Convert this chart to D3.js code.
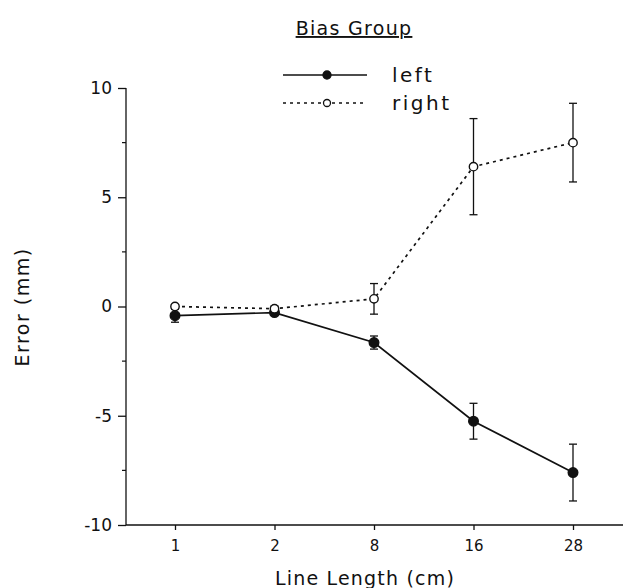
<!DOCTYPE html>
<html><head><meta charset="utf-8">
<script src="https://cdn.jsdelivr.net/npm/d3@7"></script>
<style>body{margin:0;background:#fff}svg{display:block}text{font-family:"DejaVu Sans",Verdana,sans-serif;fill:#111}</style>
</head><body>
<script>
const categories = ["1","2","8","16","28"];
const leftMean = [-0.42, -0.28, -1.65, -5.25, -7.6];
const leftErr = [0.3, 0.1, 0.3, 0.82, 1.3];
const rightMean = [0.0, -0.1, 0.35, 6.4, 7.5];
const rightErr = [0.05, 0.12, 0.7, 2.2, 1.8];
const yTicks = [-10, -5, 0, 5, 10];
const yMinor = [-7.5, -2.5, 2.5, 7.5];

const W = 623, H = 588;
const svg = d3.select("body").append("svg").attr("width", W).attr("height", H);
const x = d3.scalePoint().domain(categories).range([175, 573]);
const y = d3.scaleLinear().domain([-10, 10]).range([525, 88]);

// axes
const yAxis = svg.append("g").attr("transform", "translate(126,0)")
  .call(d3.axisLeft(y).tickValues(yTicks).tickSize(8).tickPadding(6).tickFormat(d => String(d)));
yAxis.select(".domain").attr("d", `M0,${y(10)}V${y(-10)}`);
yAxis.selectAll("text").attr("font-size", 17).attr("font-family", "Liberation Serif, serif").attr("fill", "#111");
svg.append("g").attr("transform", "translate(126,0)")
  .selectAll("line").data(yMinor).join("line")
  .attr("x1", -4).attr("x2", 0).attr("y1", d => y(d)).attr("y2", d => y(d)).attr("stroke", "#111").attr("stroke-width", 1.2);

const xAxis = svg.append("g").attr("transform", `translate(0,${y(-10)})`)
  .call(d3.axisBottom(x).tickSize(5).tickPadding(10));
xAxis.select(".domain").attr("d", `M126,0H623`);
xAxis.selectAll("text").attr("font-size", 15).attr("font-family", "DejaVu Sans").attr("fill", "#111");
svg.selectAll(".domain, .tick line").attr("stroke", "#111").attr("stroke-width", 1.3);

// labels
svg.append("text").attr("x", 354).attr("y", 35).attr("text-anchor", "middle")
  .attr("font-size", 19).attr("letter-spacing", 1.3).attr("text-decoration", "underline").text("Bias Group");
svg.append("text").attr("x", 365).attr("y", 585).attr("text-anchor", "middle")
  .attr("font-size", 19).attr("letter-spacing", 1.2).text("Line Length (cm)");
svg.append("text").attr("transform", "translate(29,307) rotate(-90)").attr("text-anchor", "middle")
  .attr("font-size", 19).attr("letter-spacing", 1.5).text("Error (mm)");

// series
const series = [
  {name: "left", mean: leftMean, err: leftErr, dash: null, fill: "#111", r: 4.8},
  {name: "right", mean: rightMean, err: rightErr, dash: "3,4", fill: "#fff", r: 4.2}
];
const line = d3.line().x((d, i) => x(categories[i])).y(d => y(d));
series.forEach(s => {
  const g = svg.append("g");
  g.append("path").datum(s.mean).attr("d", line).attr("fill", "none")
    .attr("stroke", "#111").attr("stroke-width", 1.7).attr("stroke-dasharray", s.dash);
  s.mean.forEach((m, i) => {
    const cx = x(categories[i]);
    const top = y(m + s.err[i]), bot = y(m - s.err[i]);
    g.append("line").attr("x1", cx).attr("x2", cx).attr("y1", top).attr("y2", bot).attr("stroke", "#111").attr("stroke-width", 1.3);
    [top, bot].forEach(yy => g.append("line").attr("x1", cx - 4).attr("x2", cx + 4).attr("y1", yy).attr("y2", yy).attr("stroke", "#111").attr("stroke-width", 1.3));
  });
  g.selectAll("circle").data(s.mean).join("circle")
    .attr("cx", (d, i) => x(categories[i])).attr("cy", d => y(d)).attr("r", s.r)
    .attr("fill", s.fill).attr("stroke", "#111").attr("stroke-width", 1.4);
});

// legend
const legendY = [75, 103];
series.forEach((s, i) => {
  const ly = legendY[i];
  svg.append("line").attr("x1", 283).attr("x2", 367).attr("y1", ly).attr("y2", ly)
    .attr("stroke", "#111").attr("stroke-width", 1.7).attr("stroke-dasharray", s.dash);
  svg.append("circle").attr("cx", 327).attr("cy", ly).attr("r", i === 0 ? 4 : 3.5)
    .attr("fill", s.fill).attr("stroke", "#111").attr("stroke-width", 1.3);
  svg.append("text").attr("x", 392).attr("y", ly + 7).attr("font-size", 20).attr("letter-spacing", 2.5).text(s.name);
});
</script>
</body></html>
